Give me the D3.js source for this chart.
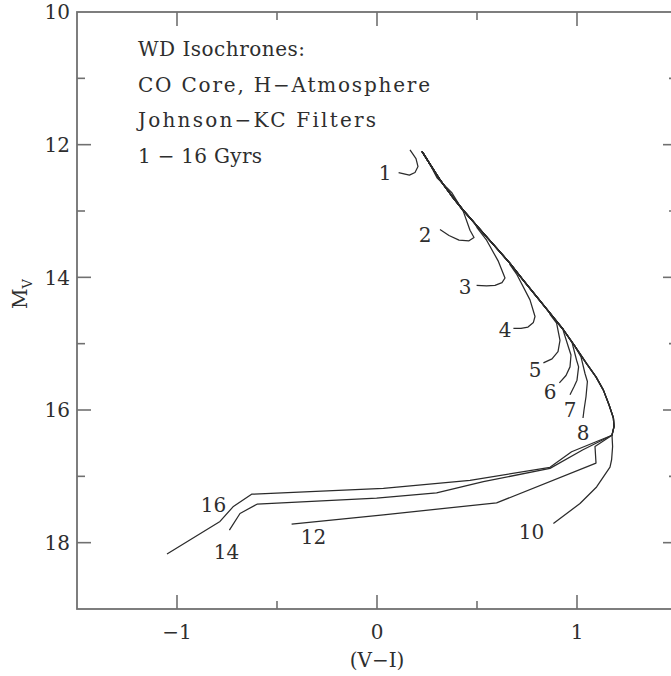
<!DOCTYPE html>
<html>
<head>
<meta charset="utf-8">
<script src="https://cdn.jsdelivr.net/npm/d3@7"></script>
<style>
  html, body { margin: 0; padding: 0; background: #fff; }
  svg { display: block; }
  text { font-family: "DejaVu Serif", "Liberation Serif", serif; fill: #2e2e2e; }
</style>
</head>
<body>
<svg id="chart" width="671" height="676"></svg>
<script>
// Ages of the white-dwarf isochrones (Gyr)
const ages = [1, 2, 3, 4, 5, 6, 7, 8, 10, 12, 14, 16];

// Common bright cooling sequence shared by all isochrones: [V-I, M_V]
const coolingSeq = [
  [0.225, 12.10], [0.26, 12.27], [0.315, 12.53], [0.373, 12.77], [0.43, 12.985],
  [0.49, 13.19], [0.548, 13.39], [0.607, 13.59], [0.665, 13.79], [0.73, 14.04],
  [0.798, 14.29], [0.865, 14.54], [0.932, 14.79], [0.99, 15.04], [1.048, 15.30],
  [1.095, 15.50], [1.132, 15.70], [1.16, 15.92], [1.182, 16.12], [1.185, 16.25],
  [1.175, 16.38]
];

// Faint ends of each isochrone, where it leaves the common sequence: [V-I, M_V]
const tail1  = [[0.165, 12.08], [0.195, 12.21], [0.205, 12.33], [0.19, 12.42], [0.162, 12.46], [0.108, 12.42]];
const tail2  = [[0.30, 12.50], [0.373, 12.72], [0.432, 13.01], [0.465, 13.29], [0.485, 13.40], [0.46, 13.45], [0.41, 13.44], [0.36, 13.37], [0.315, 13.28]];
const tail3  = [[0.50, 13.25], [0.548, 13.44], [0.607, 13.76], [0.64, 14.01], [0.625, 14.08], [0.59, 14.12], [0.548, 14.13], [0.498, 14.12]];
const tail4  = [[0.665, 13.81], [0.698, 13.95], [0.765, 14.34], [0.79, 14.59], [0.782, 14.68], [0.755, 14.75], [0.72, 14.77], [0.682, 14.77]];
const tail5  = [[0.865, 14.56], [0.898, 14.69], [0.915, 14.95], [0.905, 15.12], [0.875, 15.23], [0.832, 15.29]];
const tail6  = [[0.932, 14.81], [0.957, 15.05], [0.97, 15.17], [0.965, 15.35], [0.945, 15.48], [0.912, 15.59]];
const tail7  = [[0.975, 14.98], [0.998, 15.25], [1.008, 15.35], [1.0, 15.55], [0.985, 15.65], [0.965, 15.77]];
const tail8  = [[1.02, 15.20], [1.04, 15.45], [1.052, 15.57], [1.045, 15.80], [1.035, 16.0], [1.03, 16.12]];
const tail10 = [[1.178, 16.55], [1.173, 16.75], [1.165, 16.86], [1.098, 17.16], [1.015, 17.41], [0.882, 17.71]];
const tail12 = [[1.09, 16.55], [1.095, 16.80], [0.598, 17.40], [0.032, 17.58], [-0.427, 17.72]];
const tail14 = [[1.03, 16.60], [0.865, 16.88], [0.532, 17.08], [0.298, 17.25], [-0.002, 17.33], [-0.60, 17.42], [-0.685, 17.56], [-0.738, 17.81]];
const tail16 = [[0.973, 16.63], [0.865, 16.864], [0.465, 17.06], [0.032, 17.18], [-0.627, 17.27], [-0.72, 17.46], [-0.785, 17.68], [-1.05, 18.17]];
const tails = [tail1, tail2, tail3, tail4, tail5, tail6, tail7, tail8, tail10, tail12, tail14, tail16];

// Age labels placed next to each isochrone's faint end
const labelText = ["1", "2", "3", "4", "5", "6", "7", "8", "10", "12", "14", "16"];
const labelVI   = [0.04, 0.24, 0.44, 0.64, 0.79, 0.865, 0.965, 1.03, 0.773, -0.318, -0.752, -0.818];
const labelMV   = [12.43, 13.36, 14.14, 14.79, 15.40, 15.72, 16.0, 16.35, 17.83, 17.91, 18.14, 17.43];

// Axis ticks
const xMajorTicks = [-1, 0, 1];
const xMinorTicks = [-0.5, 0.5];
const yMajorTicks = [10, 12, 14, 16, 18];
const yMinorTicks = [11, 13, 15, 17];

// Annotation block
const noteLines = ["WD Isochrones:", "CO Core, H\u2212Atmosphere", "Johnson\u2212KC Filters", "1 \u2212 16 Gyrs"];

const svg = d3.select("#chart");
const plotLeft = 77, plotRight = 677, plotTop = 12, plotBottom = 609;

const x = d3.scaleLinear().domain([-1.5, 1.5]).range([plotLeft, plotRight]);
const y = d3.scaleLinear().domain([10, 19]).range([plotTop, plotBottom]);

const frameColor = "#707070";
const majorLen = 14, minorLen = 8;

// Isochrone curves
const line = d3.line().x(d => x(d[0])).y(d => y(d[1]));
const isochrones = tails.map(t => coolingSeq.filter(p => p[1] < t[0][1]).concat(t));

svg.append("g")
  .selectAll("path")
  .data(isochrones)
  .join("path")
  .attr("d", line)
  .attr("fill", "none")
  .attr("stroke", "#2b2b2b")
  .attr("stroke-width", 1.25)
  .attr("stroke-linejoin", "round");

// Frame
svg.append("rect")
  .attr("x", plotLeft).attr("y", plotTop)
  .attr("width", plotRight - plotLeft).attr("height", plotBottom - plotTop)
  .attr("fill", "none").attr("stroke", frameColor).attr("stroke-width", 1.8);

// Ticks, drawn inward on all four sides
const tickG = svg.append("g").attr("stroke", frameColor).attr("stroke-width", 1.6);
function xTicks(vals, len) {
  vals.forEach(v => {
    tickG.append("line").attr("x1", x(v)).attr("x2", x(v)).attr("y1", plotBottom).attr("y2", plotBottom - len);
    tickG.append("line").attr("x1", x(v)).attr("x2", x(v)).attr("y1", plotTop).attr("y2", plotTop + len);
  });
}
function yTicks(vals, len) {
  vals.forEach(v => {
    tickG.append("line").attr("y1", y(v)).attr("y2", y(v)).attr("x1", plotLeft).attr("x2", plotLeft + len);
    tickG.append("line").attr("y1", y(v)).attr("y2", y(v)).attr("x1", plotRight).attr("x2", plotRight - len);
  });
}
xTicks(xMajorTicks, majorLen);
xTicks(xMinorTicks, minorLen);
yTicks(yMajorTicks.filter(v => v > 10), majorLen);
yTicks(yMinorTicks, minorLen);

// Tick labels
svg.append("g").selectAll("text")
  .data(xMajorTicks).join("text")
  .attr("x", d => x(d)).attr("y", plotBottom + 30)
  .attr("text-anchor", "middle")
  .attr("font-size", 20)
  .text(d => d < 0 ? "\u2212" + Math.abs(d) : String(d));

svg.append("g").selectAll("text")
  .data(yMajorTicks).join("text")
  .attr("x", plotLeft - 7).attr("y", d => y(d))
  .attr("dy", "0.36em")
  .attr("text-anchor", "end")
  .attr("font-size", 20)
  .text(d => d);

// Axis titles
svg.append("text")
  .attr("x", x(0)).attr("y", 667)
  .attr("text-anchor", "middle")
  .attr("font-size", 20)
  .text("(V\u2212I)");

const yTitle = svg.append("text")
  .attr("transform", "translate(27,294) rotate(-90)")
  .attr("text-anchor", "middle")
  .attr("font-size", 20);
yTitle.append("tspan").text("M");
yTitle.append("tspan").attr("font-size", 13).attr("dy", 5).text("V");

// Annotation block, each line stretched to the width of the plotted lettering
const noteWidths = [167, 292, 238, 124];
svg.append("g").selectAll("text")
  .data(noteLines).join("text")
  .attr("x", 138)
  .attr("y", (d, i) => 56 + i * 35.5)
  .attr("font-size", 20)
  .attr("textLength", (d, i) => noteWidths[i])
  .attr("lengthAdjust", "spacing")
  .text(d => d);

// Age labels
svg.append("g").selectAll("text")
  .data(labelText).join("text")
  .attr("x", (d, i) => x(labelVI[i]))
  .attr("y", (d, i) => y(labelMV[i]))
  .attr("dy", "0.36em")
  .attr("text-anchor", "middle")
  .attr("font-size", 20)
  .text(d => d);
</script>
</body>
</html>
